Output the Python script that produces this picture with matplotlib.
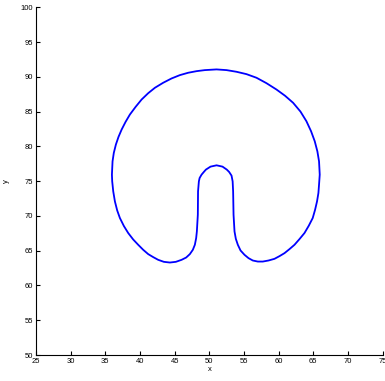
import matplotlib
matplotlib.use("Agg")
from matplotlib import pyplot as plt

# contour, counterclockwise from the top
curve_x = [51.04, 49.35, 48.16, 46.95, 45.75, 44.55, 43.34, 42.15, 41.18, 40.23,
           39.37, 38.54, 37.92, 37.35, 36.90, 36.52, 36.22, 36.04, 35.95, 35.99,
           36.14, 36.38, 36.71, 37.10, 37.68, 38.30, 39.02, 39.74, 40.46, 41.18,
           41.90, 42.62, 43.44, 44.31, 45.17, 46.00, 46.66, 47.19, 47.62, 47.91,
           48.10, 48.20, 48.34, 48.37, 48.49, 48.60, 48.88, 49.21, 49.50, 50.17,
           51.04, 51.90, 52.52, 52.85, 53.20, 53.36, 53.43, 53.49, 53.63, 53.82,
           54.11, 54.50, 55.07, 55.65, 56.27, 56.99, 57.71, 58.53, 59.39, 60.12,
           60.84, 61.56, 62.28, 63.00, 63.72, 64.34, 64.91, 65.25, 65.53, 65.73,
           65.82, 65.92, 65.82, 65.58, 65.20, 64.67, 64.00, 63.14, 62.08, 60.92,
           59.68, 58.24, 56.80, 55.36, 53.92, 52.48]
curve_y = [91.07, 90.97, 90.82, 90.59, 90.25, 89.77, 89.15, 88.43, 87.65, 86.74,
           85.69, 84.58, 83.53, 82.42, 81.37, 80.26, 79.06, 77.85, 75.94, 74.97,
           73.53, 72.09, 70.79, 69.70, 68.54, 67.54, 66.61, 65.85, 65.13, 64.51,
           64.08, 63.69, 63.40, 63.30, 63.40, 63.69, 64.02, 64.51, 65.13, 65.85,
           66.82, 67.77, 70.17, 73.53, 74.97, 75.46, 75.94, 76.33, 76.66, 77.09,
           77.28, 77.09, 76.66, 76.33, 75.80, 74.97, 73.53, 70.17, 67.77, 66.71,
           65.85, 65.03, 64.41, 63.93, 63.59, 63.44, 63.44, 63.59, 63.83, 64.22,
           64.65, 65.23, 65.85, 66.67, 67.54, 68.59, 69.70, 70.89, 72.09, 73.30,
           74.50, 75.94, 77.85, 79.29, 80.74, 82.18, 83.62, 85.01, 86.27, 87.28,
           88.18, 89.09, 89.87, 90.39, 90.73, 90.97]

x_ticks = [25, 30, 35, 40, 45, 50, 55, 60, 65, 70, 75]
y_ticks = [50, 55, 60, 65, 70, 75, 80, 85, 90, 95, 100]

plt.rcParams['font.family'] = ['Liberation Sans', 'DejaVu Sans']

fig = plt.figure(figsize=(3.85, 3.81), dpi=100)
ax = fig.add_axes([0.0935, 0.0682, 0.9005, 0.9126])
# closed outline, no fill
ax.fill(curve_x, curve_y, fill=False, edgecolor='#0000ff', linewidth=1.3,
        joinstyle='round')

ax.set_xlim(25, 75)
ax.set_ylim(50, 100)
ax.set_xticks(x_ticks)
ax.set_yticks(y_ticks)
ax.spines['top'].set_visible(False)
ax.spines['right'].set_visible(False)
ax.spines['left'].set_linewidth(0.8)
ax.spines['bottom'].set_linewidth(0.8)
ax.tick_params(direction='in', length=3, width=0.8, labelsize=5.5, pad=2)
ax.set_xlabel('x', fontsize=5.5, labelpad=1)
ax.set_ylabel('y', fontsize=5.5, labelpad=8)

fig.savefig('out.png', dpi=100)
